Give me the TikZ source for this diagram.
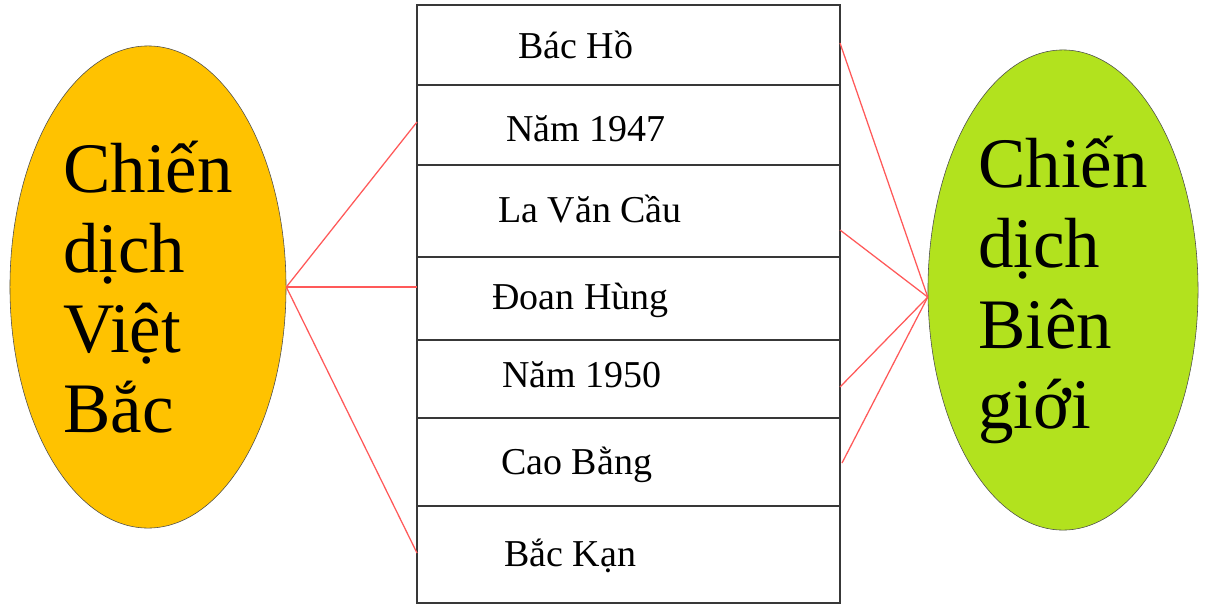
\documentclass[tikz,border=0pt]{standalone}
\usepackage{fontspec}
\setmainfont{Liberation Serif}
\usetikzlibrary{shapes.geometric}
\definecolor{vbyellow}{RGB}{255,194,0}
\definecolor{bggreen}{RGB}{178,226,30}
\tikzset{
  campaign/.style={ellipse, draw=black!70, thin, inner sep=0pt,
    minimum width=6.9cm, minimum height=12.05cm, align=left,
    font=\fontsize{50.5}{57}\selectfont},
  item/.style={anchor=base west, inner sep=0pt, font=\fontsize{27}{30}\selectfont},
  link/.style={draw=red!65, line width=0.9pt},
  tablerule/.style={draw=black!78, line width=1.8pt}
}
\begin{document}
\begin{tikzpicture}[x=0.025cm, y=-0.025cm]
  \useasboundingbox (0,0) rectangle (1205,607);
  % the two campaigns
  \node[campaign, fill=vbyellow] (vb) at (148,287) {Chiến\\dịch\\Việt\\Bắc};
  \node[campaign, fill=bggreen, minimum width=6.75cm, minimum height=12cm] (bg) at (1063,290) {Chiến\\dịch\\Biên\\giới};
  % routine for table
  \draw[tablerule] (417,5) rectangle (840,603);
  \draw[tablerule] (417,85) -- (840,85);
  \draw[tablerule] (417,165) -- (840,165);
  \draw[tablerule] (417,257) -- (840,257);
  \draw[tablerule] (417,340) -- (840,340);
  \draw[tablerule] (417,418) -- (840,418);
  \draw[tablerule] (417,506) -- (840,506);
  % the rows
  \node[item] (bacho) at (518,58) {Bác Hồ};
  \node[item] (nam47) at (506,141) {Năm 1947};
  \node[item] (lavancau) at (498,222) {La Văn Cầu};
  \node[item] (doanhung) at (492,309) {Đoan Hùng};
  \node[item] (nam50) at (502,387) {Năm 1950};
  \node[item] (caobang) at (501,474) {Cao Bằng};
  \node[item] (backan) at (504,566) {Bắc Kạn};
  % ends of the links on the table
  \coordinate (l47) at (417,122);
  \coordinate (ldh) at (417,287);
  \coordinate (lbk) at (417,553);
  \coordinate (rbh) at (840,43);
  \coordinate (rlvc) at (840,230);
  \coordinate (r50) at (840,387);
  \coordinate (rcb) at (842,463);
  % links
  \draw[link] (vb.east) -- (l47);
  \draw[link] (vb.east) -- (ldh);
  \draw[link] (vb.east) -- (lbk);
  \draw[link] (bg.183) -- (rbh);
  \draw[link] (bg.183) -- (rlvc);
  \draw[link] (bg.183) -- (r50);
  \draw[link] (bg.183) -- (rcb);
\end{tikzpicture}
\end{document}
